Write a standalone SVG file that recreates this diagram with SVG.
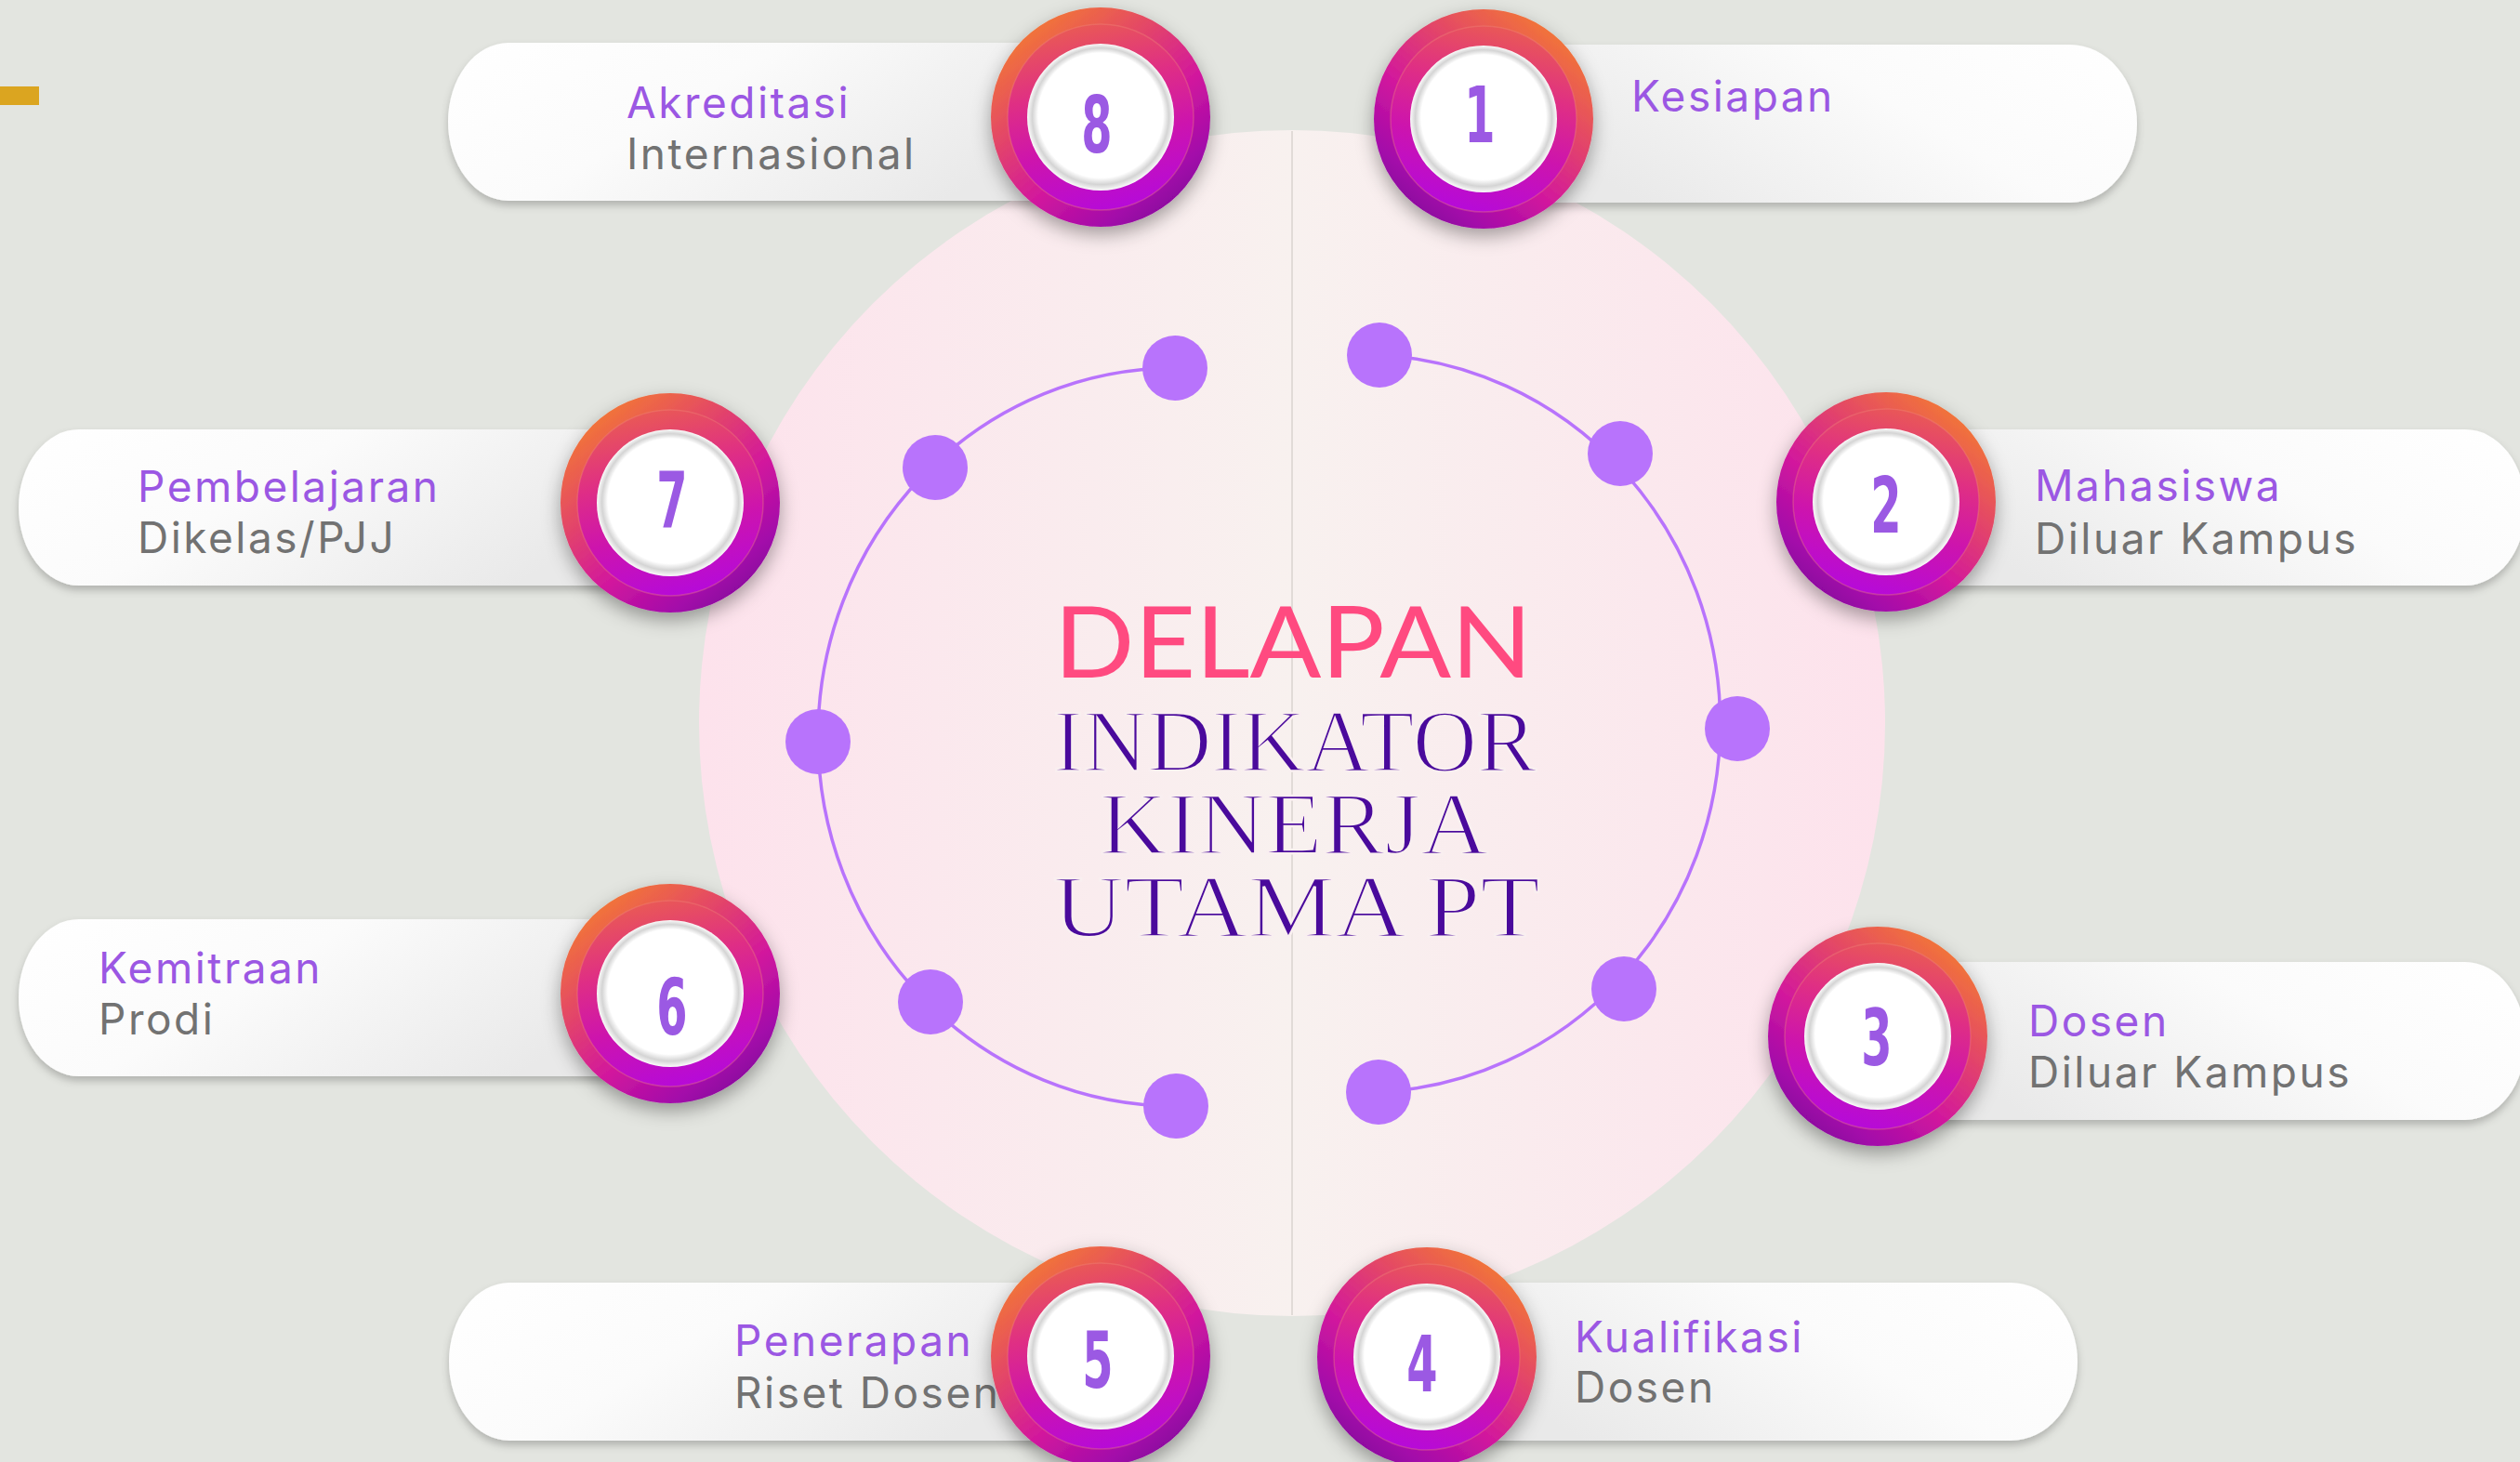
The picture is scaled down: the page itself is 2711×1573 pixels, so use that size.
<svg xmlns="http://www.w3.org/2000/svg" width="2711" height="1573" viewBox="0 0 2711 1573">
<defs>
<style>
.l1{font-family:Inter,"Open Sans","Liberation Sans",sans-serif;font-size:46px;fill:#9b57e3;letter-spacing:2.5px}
.l2{font-family:Inter,"Open Sans","Liberation Sans",sans-serif;font-size:46px;fill:#727272;letter-spacing:2.5px}
.num{font-family:"DejaVu Sans","Liberation Sans",sans-serif;font-weight:bold;font-size:84px;fill:#9b59e3;text-anchor:middle}
.pillL{fill:url(#pillGL);filter:url(#pillSh)}
.pillR{fill:url(#pillGR);filter:url(#pillSh)}
.dot{fill:#b873fc}
.arc{fill:none;stroke:#b873fc;stroke-width:3.5}
.title{font-family:"Liberation Serif","DejaVu Serif",serif;font-size:95px;fill:#4a0a9c;text-anchor:middle;stroke:#f9eff0;stroke-width:2.6px}
</style>
<linearGradient id="bigG" x1="0" y1="0" x2="1" y2="0">
<stop offset="0" stop-color="#fde2ec"/>
<stop offset="0.5" stop-color="#f8f1ef"/>
<stop offset="1" stop-color="#fde2ec"/>
</linearGradient>
<linearGradient id="pillGL" x1="0" y1="0" x2="1" y2="0.4">
<stop offset="0" stop-color="#ffffff"/>
<stop offset="0.45" stop-color="#fbfbfb"/>
<stop offset="1" stop-color="#e9e9e9"/>
</linearGradient>
<linearGradient id="pillGR" x1="1" y1="0" x2="0" y2="0.4">
<stop offset="0" stop-color="#ffffff"/>
<stop offset="0.45" stop-color="#fbfbfb"/>
<stop offset="1" stop-color="#e9e9e9"/>
</linearGradient>
<linearGradient id="ringOL" x1="0.15" y1="0.05" x2="0.85" y2="0.95">
<stop offset="0" stop-color="#f47d30"/>
<stop offset="0.35" stop-color="#e2426c"/>
<stop offset="0.6" stop-color="#d2189d"/>
<stop offset="0.85" stop-color="#a309aa"/>
<stop offset="1" stop-color="#82059a"/>
</linearGradient>
<linearGradient id="ringOR" x1="0.85" y1="0.05" x2="0.15" y2="0.95">
<stop offset="0" stop-color="#f47d30"/>
<stop offset="0.35" stop-color="#e2426c"/>
<stop offset="0.6" stop-color="#d2189d"/>
<stop offset="0.85" stop-color="#a309aa"/>
<stop offset="1" stop-color="#82059a"/>
</linearGradient>
<linearGradient id="ringIL" x1="0.3" y1="0" x2="0.55" y2="1">
<stop offset="0" stop-color="#ea5c52"/>
<stop offset="0.35" stop-color="#df2e85"/>
<stop offset="0.65" stop-color="#cd14ad"/>
<stop offset="1" stop-color="#b60ad8"/>
</linearGradient>
<linearGradient id="ringIR" x1="0.7" y1="0" x2="0.45" y2="1">
<stop offset="0" stop-color="#ea5c52"/>
<stop offset="0.35" stop-color="#df2e85"/>
<stop offset="0.65" stop-color="#cd14ad"/>
<stop offset="1" stop-color="#b60ad8"/>
</linearGradient>
<radialGradient id="face" cx="0.5" cy="0.5" r="0.5" fx="0.5" fy="0.42">
<stop offset="0" stop-color="#ffffff"/>
<stop offset="0.85" stop-color="#ffffff"/>
<stop offset="0.93" stop-color="#d4d4d4"/>
<stop offset="0.97" stop-color="#eaeaea"/>
<stop offset="1" stop-color="#fbfbfb"/>
</radialGradient>
<filter id="pillSh" x="-10%" y="-20%" width="120%" height="150%">
<feDropShadow dx="0" dy="5" stdDeviation="4" flood-color="#000" flood-opacity="0.22"/>
</filter>
<filter id="ringSh" x="-30%" y="-30%" width="160%" height="160%">
<feDropShadow dx="0" dy="8" stdDeviation="10" flood-color="#000" flood-opacity="0.35"/>
</filter>
<g id="badgeL">
<circle r="118" fill="url(#ringOL)" filter="url(#ringSh)"/>
<circle r="100" fill="url(#ringIL)" stroke="#f08a7a" stroke-opacity="0.35" stroke-width="1.5"/>
<circle r="79" fill="url(#face)"/>
</g>
<g id="badgeR">
<circle r="118" fill="url(#ringOR)" filter="url(#ringSh)"/>
<circle r="100" fill="url(#ringIR)" stroke="#f08a7a" stroke-opacity="0.35" stroke-width="1.5"/>
<circle r="79" fill="url(#face)"/>
</g>
</defs>

<rect width="2711" height="1573" fill="#e3e5e0"/>
<rect x="0" y="93" width="42" height="20" fill="#dba520"/>

<g id="center">
<circle cx="1390" cy="778" r="638" fill="url(#bigG)"/>
<line x1="1390" y1="141" x2="1390" y2="1415" stroke="#e1dbd7" stroke-width="2"/>
<text x="1391" y="729" font-family="Lato,'Noto Sans','Liberation Sans',sans-serif" font-size="107" fill="#ff4a80" text-anchor="middle" textLength="514" lengthAdjust="spacingAndGlyphs">DELAPAN</text>
<text class="title" x="1393" y="830" textLength="520" lengthAdjust="spacingAndGlyphs">INDIKATOR</text>
<text class="title" x="1392" y="919" textLength="418" lengthAdjust="spacingAndGlyphs">KINERJA</text>
<text class="title" x="1395" y="1008" textLength="524" lengthAdjust="spacingAndGlyphs">UTAMA PT</text>
</g>

<g id="connectors">
<path class="arc" d="M1264,396 A384,397 0 0 0 1264,1190"/>
<path class="arc" d="M1484,382 A386,397 0 0 1 1484,1175"/>
<circle class="dot" cx="1264" cy="396" r="35"/>
<circle class="dot" cx="1006" cy="503" r="35"/>
<circle class="dot" cx="880" cy="798" r="35"/>
<circle class="dot" cx="1001" cy="1078" r="35"/>
<circle class="dot" cx="1265" cy="1190" r="35"/>
<circle class="dot" cx="1484" cy="382" r="35"/>
<circle class="dot" cx="1743" cy="488" r="35"/>
<circle class="dot" cx="1869" cy="784" r="35"/>
<circle class="dot" cx="1747" cy="1064" r="35"/>
<circle class="dot" cx="1483" cy="1175" r="35"/>
</g>

<g id="node-8">
<rect class="pillL" x="482" y="46" width="702" height="170" rx="65" ry="85"/>
<text class="l1" x="674" y="127">Akreditasi</text>
<text class="l2" x="674" y="182">Internasional</text>
<use href="#badgeL" x="1184" y="126"/>
<g transform="translate(1180,164) scale(0.57,1)"><text class="num" x="0" y="0">8</text></g>
</g>

<g id="node-1">
<rect class="pillR" x="1596" y="48" width="703" height="170" rx="72" ry="85"/>
<text class="l1" x="1755" y="120">Kesiapan</text>
<use href="#badgeR" x="1596" y="128"/>
<g transform="translate(1592,153) scale(0.57,1)"><text class="num" x="0" y="0">1</text></g>
</g>

<g id="node-7">
<rect class="pillL" x="20" y="462" width="701" height="168" rx="65" ry="84"/>
<text class="l1" x="148" y="540">Pembelajaran</text>
<text class="l2" x="148" y="595">Dikelas/PJJ</text>
<use href="#badgeL" x="721" y="541"/>
<g transform="translate(723,568) scale(0.57,1)"><text class="num" x="0" y="0">7</text></g>
</g>

<g id="node-2">
<rect class="pillR" x="2029" y="462" width="688" height="168" rx="65" ry="84"/>
<text class="l1" x="2189" y="539">Mahasiswa</text>
<text class="l2" x="2189" y="596">Diluar Kampus</text>
<use href="#badgeR" x="2029" y="540"/>
<g transform="translate(2029,573) scale(0.57,1)"><text class="num" x="0" y="0">2</text></g>
</g>

<g id="node-6">
<rect class="pillL" x="20" y="989" width="701" height="169" rx="65" ry="84"/>
<text class="l1" x="106" y="1058">Kemitraan</text>
<text class="l2" x="106" y="1113">Prodi</text>
<use href="#badgeL" x="721" y="1069"/>
<g transform="translate(723,1113) scale(0.57,1)"><text class="num" x="0" y="0">6</text></g>
</g>

<g id="node-3">
<rect class="pillR" x="2020" y="1035" width="697" height="170" rx="65" ry="85"/>
<text class="l1" x="2182" y="1115">Dosen</text>
<text class="l2" x="2182" y="1170">Diluar Kampus</text>
<use href="#badgeR" x="2020" y="1115"/>
<g transform="translate(2019,1146) scale(0.57,1)"><text class="num" x="0" y="0">3</text></g>
</g>

<g id="node-5">
<rect class="pillL" x="483" y="1380" width="701" height="170" rx="65" ry="85"/>
<text class="l1" x="790" y="1459">Penerapan</text>
<text class="l2" x="790" y="1515">Riset Dosen</text>
<use href="#badgeL" x="1184" y="1459"/>
<g transform="translate(1181,1493) scale(0.57,1)"><text class="num" x="0" y="0">5</text></g>
</g>

<g id="node-4">
<rect class="pillR" x="1535" y="1380" width="700" height="170" rx="72" ry="85"/>
<text class="l1" x="1694" y="1455">Kualifikasi</text>
<text class="l2" x="1694" y="1509">Dosen</text>
<use href="#badgeR" x="1535" y="1460"/>
<g transform="translate(1530,1497) scale(0.57,1)"><text class="num" x="0" y="0">4</text></g>
</g>
</svg>
